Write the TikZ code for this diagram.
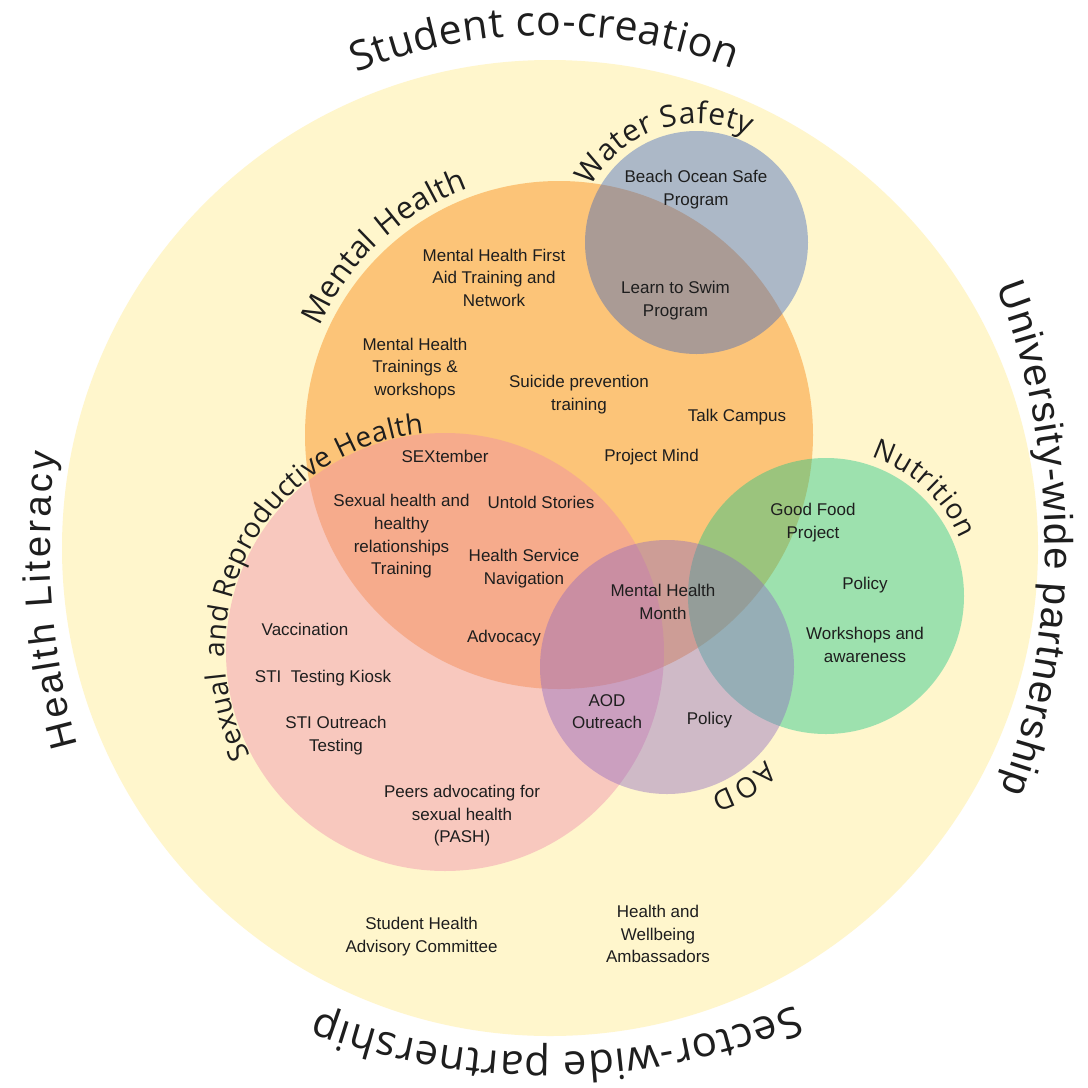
\documentclass[tikz,border=0pt]{standalone}
\usepackage{fontspec}
\setmainfont{Liberation Sans}
\newfontfamily\curvefont{Open Sans}
\usetikzlibrary{decorations.text}

\definecolor{ringyellow}{RGB}{255,246,204}
\definecolor{mindorange}{RGB}{252,196,120}
\definecolor{srhpink}{RGB}{238,136,170}
\definecolor{waterblue}{RGB}{55,97,192}
\definecolor{foodgreen}{RGB}{18,197,133}
\definecolor{aodpurple}{RGB}{140,102,194}
\definecolor{ink}{RGB}{30,30,30}

\tikzset{
    item/.style={align=center, inner sep=0pt, text=ink,
        font=\fontsize{17}{22.7}\selectfont,
        execute at begin node=\strut, execute at end node=\strut},
    circlefill/.style={fill=#1, fill opacity=0.41},
    curved/.style={decorate, decoration={text along path, text align=fit to path, text color=ink}},
}

\begin{document}
\begin{tikzpicture}[x=1pt, y=-1pt]

    \useasboundingbox (0,0) rectangle (1088,1088);
    \fill[white] (0,0) rectangle (1088,1088);

    \fill[ringyellow] (550,548) circle[radius=488];
    \fill[mindorange] (559,435) circle[radius=254];
    \fill[circlefill=srhpink] (445,652) circle[radius=219];
    \fill[circlefill=waterblue] (696.5,242.5) circle[radius=111.5];
    \fill[circlefill=foodgreen] (826,596) circle[radius=138];
    \fill[circlefill=aodpurple] (667,667) circle[radius=127];

    % labels round the outer ring
    \path[curved, shift={(550,548)}, decoration={text={|\curvefont\fontsize{41}{48}\selectfont|Student co-creation}}]
        (247.8:513) arc[start angle=247.8, end angle=290.9, radius=513];
    \path[curved, shift={(330,545)}, decoration={text={|\normalfont\fontsize{40}{48}\selectfont|University-wide partnership}}]
        (-21.15:715) arc[start angle=-21.15, end angle=20.04, radius=715];
    \path[curved, shift={(548,393)}, decoration={text={|\curvefont\fontsize{42}{48}\selectfont|Sector-wide partnership}}]
        (68:660) arc[start angle=68, end angle=110.4, radius=660];
    \path[curved, shift={(800,545)}, decoration={text={|\normalfont\fontsize{38}{46}\selectfont|Health Literacy}}]
        (164.5:750) arc[start angle=164.5, end angle=187.05, radius=750];

    % labels on the circles
    \path[curved, shift={(559,435)}, decoration={text={|\curvefont\fontsize{31}{36}\selectfont|Mental Health}}]
        (204.4:263) arc[start angle=204.4, end angle=249.8, radius=263];
    \path[curved, shift={(696.5,242.5)}, decoration={text={|\curvefont\fontsize{30}{36}\selectfont|Water Safety}}]
        (208:119) arc[start angle=208, end angle=296, radius=119];
    \path[curved, shift={(826,596)}, decoration={text={|\curvefont\fontsize{28}{34}\selectfont|Nutrition}}]
        (288:146) arc[start angle=288, end angle=337, radius=146];
    \path[curved, shift={(667,667)}, decoration={text={|\curvefont\fontsize{28}{34}\selectfont|AOD}}]
        (43.5:135) arc[start angle=43.5, end angle=71, radius=135];
    \path[curved, shift={(445,652)}, decoration={text={|\curvefont\fontsize{28}{34}\selectfont|Sexual{\ } and Reproductive Health}}]
        (152:220) arc[start angle=152, end angle=264.5, radius=220];

    \node[item] (mhfa) at (494,281) {Mental Health First\\Aid Training and\\Network};
    \node[item] (mhtrain) at (415,370) {Mental Health\\Trainings \&\\workshops};
    \node[item] (suicide) at (579,396) {Suicide prevention\\training};
    \node[item] (talk) at (737,416.5) {Talk Campus};
    \node[item] (mind) at (651.5,456.5) {Project Mind};
    \node[item] (sextember) at (445,458) {SEXtember};
    \node[item] (relations) at (401.5,538) {Sexual health and\\healthy\\relationships\\Training};
    \node[item] (untold) at (541,503.5) {Untold Stories};
    \node[item] (navigate) at (524,570) {Health Service\\Navigation};
    \node[item] (advocacy) at (504,637.5) {Advocacy};
    \node[item] (vaccine) at (305,630.5) {Vaccination};
    \node[item] (kiosk) at (323,677.5) {STI\ \ Testing Kiosk};
    \node[item] (stioutreach) at (336,737) {STI Outreach\\Testing};
    \node[item] (pash) at (462,817.5) {Peers advocating for\\sexual health\\(PASH)};
    \node[item] (shac) at (421.6,938) {Student Health\\Advisory Committee};
    \node[item] (beach) at (696,191) {Beach Ocean Safe\\Program};
    \node[item] (swim) at (675.5,302) {Learn to Swim\\Program};
    \node[item] (goodfood) at (813,524) {Good Food\\Project};
    \node[item] (foodpolicy) at (865,584.5) {Policy};
    \node[item] (foodworkshops) at (865,648) {Workshops and\\awareness};
    \node[item] (mhmonth) at (663,605) {Mental Health\\Month};
    \node[item] (aodoutreach) at (607,715) {AOD\\Outreach};
    \node[item] (aodpolicy) at (709.5,719.5) {Policy};
    \node[item] (ambassadors) at (658,937.5) {Health and\\Wellbeing\\Ambassadors};

\end{tikzpicture}
\end{document}
